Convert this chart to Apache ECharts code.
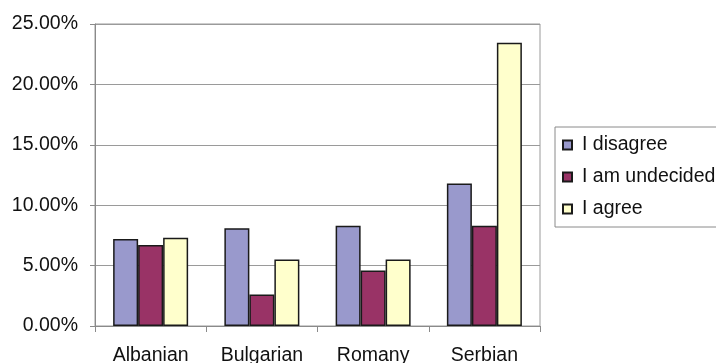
<!DOCTYPE html>
<html><head><meta charset="utf-8">
<script src="https://cdn.jsdelivr.net/npm/echarts@6/dist/echarts.min.js"></script>
<style>html,body{margin:0;padding:0;background:#fff;}#c{width:716px;height:363px;}</style>
</head><body><div id="c"></div>
<script>
const categories = ['Albanian', 'Bulgarian', 'Romany', 'Serbian'];
const seriesNames = ['I disagree', 'I am undecided', 'I agree'];
const disagree = [0.072, 0.081, 0.083, 0.118];
const undecided = [0.067, 0.026, 0.046, 0.083];
const agree = [0.073, 0.055, 0.055, 0.2345];
const yTicks = [0, 0.05, 0.10, 0.15, 0.20, 0.25];
const colors = ['#9999cc', '#993366', '#ffffcc'];

const chart = echarts.init(document.getElementById('c'));
const mk = (name, data, color) => ({
  name, type: 'bar', data, barWidth: 25, barGap: '0%',
  itemStyle: { color, borderColor: '#1a1a1a', borderWidth: 1.5 }
});
chart.setOption({
  backgroundColor: '#fff',
  animation: false,
  textStyle: { fontFamily: 'Liberation Sans, Arial, sans-serif' },
  grid: { left: 95, right: 176, top: 24, bottom: 37, show: true, borderColor: '#9a9a9a', borderWidth: 1, containLabel: false, outerBoundsMode: 'none' },
  legend: {
    orient: 'vertical', left: 555, top: 127,
    data: seriesNames, icon: 'rect',
    itemWidth: 9, itemHeight: 9, itemGap: 12,
    padding: [8, 30, 8, 7],
    borderColor: '#8a8a8a', borderWidth: 1,
    textStyle: { fontSize: 19.5, color: '#111', padding: [0, 0, 0, 5] }
  },
  xAxis: {
    type: 'category', data: categories,
    axisLine: { lineStyle: { color: '#8a8a8a', width: 1 } },
    axisTick: { show: true, length: 6, lineStyle: { color: '#8a8a8a' } },
    axisLabel: { fontSize: 19.5, color: '#111', margin: 20 }
  },
  yAxis: {
    type: 'value', min: yTicks[0], max: yTicks[yTicks.length - 1], interval: yTicks[1] - yTicks[0],
    axisLine: { show: true, lineStyle: { color: '#8a8a8a', width: 1 } },
    axisTick: { show: true, length: 5, lineStyle: { color: '#8a8a8a' } },
    axisLabel: { fontSize: 19.5, color: '#111', margin: 17, formatter: v => (v * 100).toFixed(2) + '%' },
    splitLine: { lineStyle: { color: '#9a9a9a', width: 1 } }
  },
  series: [mk(seriesNames[0], disagree, colors[0]), mk(seriesNames[1], undecided, colors[1]), mk(seriesNames[2], agree, colors[2])]
});
</script></body></html>
